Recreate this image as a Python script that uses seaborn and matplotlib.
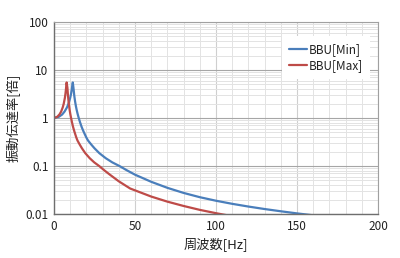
import matplotlib
matplotlib.use("Agg")
import matplotlib.pyplot as plt
import seaborn as sns
import pandas as pd
from matplotlib.ticker import LogLocator, FixedLocator, NullFormatter, MultipleLocator

# ---- data ----
min_freq = [0, 3, 5, 6.5, 8, 9, 10, 10.5, 11, 11.3, 11.6,
            12, 12.5, 13, 13.5, 14, 14.6, 15.2, 16, 17, 18, 19, 20, 21, 23, 25, 28,
            32, 36, 40.5, 45, 50, 60, 70, 80, 90, 100, 110, 120, 130, 140, 150, 160]
min_vals = [1.0, 1.06, 1.18, 1.36, 1.66, 2.01, 2.63, 3.16, 4.0, 4.8, 5.5,
            4.26, 2.94, 2.23, 1.78, 1.47, 1.21, 1.02, 0.83, 0.66, 0.545, 0.46, 0.39, 0.34, 0.28, 0.234, 0.185,
            0.145, 0.119, 0.0996, 0.0813, 0.066, 0.0469, 0.0351, 0.0275, 0.0224, 0.0189, 0.0163, 0.0143,
            0.0127, 0.0114, 0.0103, 0.0094]

max_freq = [0, 2, 3.4, 4.4, 5.4, 6, 6.7, 7.1, 7.4, 7.6, 7.8,
            8.28, 8.63, 8.97, 9.32, 9.66, 10.07, 10.49, 11.04, 11.73, 12.42, 13.11, 13.8, 14.49,
            15.87, 17.25, 19.32, 22.08, 24.84, 27.95, 31.05, 34.5, 40, 47, 60, 70, 80, 90, 100, 110]
max_vals = [1.0, 1.06, 1.19, 1.36, 1.67, 1.98, 2.61, 3.26, 4.04, 4.85, 5.5,
            4.26, 2.94, 2.23, 1.78, 1.47, 1.21, 1.02, 0.83, 0.66, 0.545, 0.46, 0.39, 0.34,
            0.28, 0.234, 0.185, 0.145, 0.119, 0.0996, 0.0813, 0.066, 0.048, 0.034, 0.0231, 0.0181,
            0.0147, 0.0122, 0.0104, 0.0090]

series_names = ["BBU[Min]", "BBU[Max]"]
series_colors = ["#4a7ebb", "#be4b48"]
y_ticks = [0.01, 0.1, 1, 10, 100]
y_tick_labels = ["0.01", "0.1", "1", "10", "100"]
x_ticks = [0, 50, 100, 150, 200]
x_label = "周波数[Hz]"
y_label = "振動伝達率[倍]"

df = pd.concat([
    pd.DataFrame({"freq": min_freq, "val": min_vals, "series": series_names[0]}),
    pd.DataFrame({"freq": max_freq, "val": max_vals, "series": series_names[1]}),
])

sns.set_theme(style="white")
plt.rcParams["font.family"] = ["Noto Sans CJK JP", "DejaVu Sans"]

fig = plt.figure(figsize=(4.0, 2.58), dpi=100)
ax = fig.add_axes([0.135, 0.1705, 0.81, 0.7442])

sns.lineplot(data=df, x="freq", y="val", hue="series", palette=series_colors,
             hue_order=series_names, linewidth=1.6, ax=ax, sort=False,
             estimator=None, legend=True)

ax.set_yscale("log")
ax.set_ylim(0.01, 100)
ax.set_xlim(0, 200)

ax.yaxis.set_major_locator(FixedLocator(y_ticks))
ax.set_yticklabels(y_tick_labels)
ax.yaxis.set_minor_locator(LogLocator(base=10, subs=range(2, 10)))
ax.yaxis.set_minor_formatter(NullFormatter())
ax.xaxis.set_major_locator(FixedLocator(x_ticks))
ax.set_xticklabels([str(v) for v in x_ticks])
ax.xaxis.set_minor_locator(MultipleLocator(10))

ax.grid(which="major", axis="y", color="#a6a6a6", linewidth=0.8)
ax.grid(which="major", axis="x", color="#cfcfcf", linewidth=0.8)
ax.grid(which="minor", axis="both", color="#e3e3e3", linewidth=0.7)
ax.set_axisbelow(True)

ax.tick_params(axis="both", which="both", length=0, labelsize=8.5, colors="#222222", pad=4)

for side in ["left", "bottom"]:
    ax.spines[side].set_color("#6e6e6e")
    ax.spines[side].set_linewidth(1.0)
for side in ["right", "top"]:
    ax.spines[side].set_color("#a0a0a0")
    ax.spines[side].set_linewidth(0.8)

ax.set_xlabel(x_label, fontsize=9.5, color="#222222", labelpad=3)
ax.set_ylabel(y_label, fontsize=9.5, color="#222222", labelpad=3)

leg = ax.legend(loc="upper right", bbox_to_anchor=(0.995, 0.958), frameon=True,
                fancybox=False, framealpha=1, facecolor="white", edgecolor="none",
                fontsize=8.5, handlelength=1.5, handletextpad=0.2, labelspacing=0.25,
                borderpad=0.6, title=None)
for t in leg.get_texts():
    t.set_color("#222222")

fig.savefig("out.png", dpi=100)
